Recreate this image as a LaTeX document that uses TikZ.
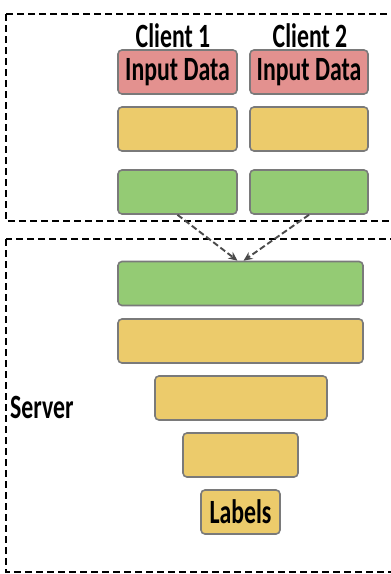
\documentclass[tikz,border=0pt]{standalone}
\usepackage{fontspec}
\setmainfont{Carlito}
\usetikzlibrary{arrows.meta}

\definecolor{inred}{HTML}{E3918F}
\definecolor{hidyel}{HTML}{ECCB6B}
\definecolor{outgrn}{HTML}{94CB74}
\definecolor{boxedge}{HTML}{7A7A7A}
\definecolor{flowgray}{HTML}{4A4A4A}

\newcommand{\narrow}[1]{\scalebox{0.7}[1]{#1}}

\tikzset{
 layer/.style={draw=boxedge,line width=1.6pt,rounded corners=4pt,minimum height=44pt,inner sep=0pt},
 txt/.style={font=\fontsize{34}{38}\selectfont\bfseries,inner sep=0pt},
 part/.style={line width=1.9pt,dash pattern=on 7pt off 4pt},
 flow/.style={flowgray,line width=1.9pt,dash pattern=on 6pt off 3pt,-{Stealth[length=9pt,width=8pt]}}
}

\begin{document}
\begin{tikzpicture}[x=1pt,y=-1pt]
 \useasboundingbox (0,0) rectangle (391,574);
 \clip (0,0) rectangle (391,574);
 % clients
 \draw[part] (6,14) rectangle (402,221);
 \node[txt] (c1) at (173,36) {\narrow{Client 1}};
 \node[txt] (c2) at (310,36) {\narrow{Client 2}};
 \node[layer,fill=inred,minimum width=119pt,txt] (in1) at (177.5,72) {\narrow{Input Data}};
 \node[layer,fill=inred,minimum width=118pt,txt] (in2) at (309,72) {\narrow{Input Data}};
 \node[layer,fill=hidyel,minimum width=119pt] (h1) at (177.5,129) {};
 \node[layer,fill=hidyel,minimum width=118pt] (h2) at (309,129) {};
 \node[layer,fill=outgrn,minimum width=119pt] (out1) at (177.5,192) {};
 \node[layer,fill=outgrn,minimum width=118pt] (out2) at (309,192) {};
 % server
 \draw[part] (6,239) rectangle (402,572);
 \node[txt,anchor=west] (srv) at (10,407) {\narrow{Server}};
 \node[layer,fill=outgrn,minimum width=245pt] (sg) at (240.5,283.5) {};
 \node[layer,fill=hidyel,minimum width=245pt] (s1) at (240.5,341) {};
 \node[layer,fill=hidyel,minimum width=172pt] (s2) at (241,398) {};
 \node[layer,fill=hidyel,minimum width=115pt] (s3) at (240.5,455) {};
 \node[layer,fill=hidyel,minimum width=79pt,txt] (lab) at (240.5,512) {\narrow{Labels}};
 \draw[flow] (out1.south) -- ([xshift=-3pt]sg.north);
 \draw[flow] (out2.south) -- ([xshift=3pt]sg.north);
\end{tikzpicture}
\end{document}
